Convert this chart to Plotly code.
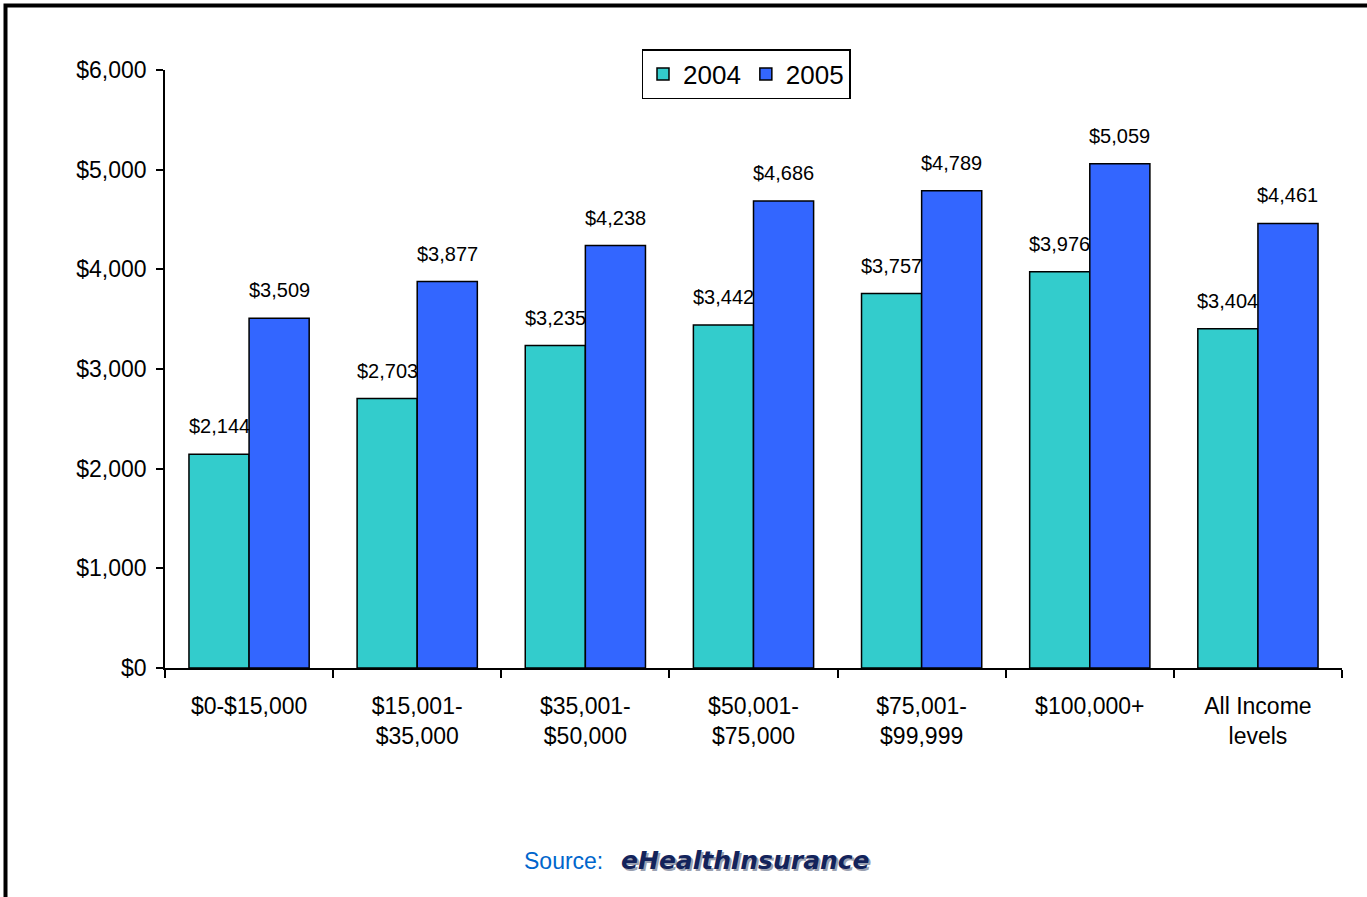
import plotly.graph_objects as go

categories = ["$0-$15,000", "$15,001-<br>$35,000", "$35,001-<br>$50,000",
              "$50,001-<br>$75,000", "$75,001-<br>$99,999", "$100,000+",
              "All Income<br>levels"]
vals_2004 = [2144, 2703, 3235, 3442, 3757, 3976, 3404]
vals_2005 = [3509, 3877, 4238, 4686, 4789, 5059, 4461]
series_names = ["2004", "2005"]
y_ticks = [0, 1000, 2000, 3000, 4000, 5000, 6000]

FONT = "Arial, Liberation Sans, sans-serif"
BARGAP = 0.285

fig = go.Figure()
fig.add_trace(go.Bar(name=series_names[0], x=categories, y=vals_2004,
                     marker=dict(color="#33CCCC", line=dict(color="black", width=1.5))))
fig.add_trace(go.Bar(name=series_names[1], x=categories, y=vals_2005,
                     marker=dict(color="#3366FF", line=dict(color="black", width=1.5))))

half = (1 - BARGAP) / 4
annotations = []
for i, (a, b) in enumerate(zip(vals_2004, vals_2005)):
    for v, off in ((a, -half), (b, half)):
        annotations.append(dict(x=i + off, y=v, xref="x", yref="y",
                                text=f"${v:,}", showarrow=False,
                                yanchor="bottom", xanchor="center", yshift=15,
                                font=dict(family=FONT, size=20, color="black")))

# Source line
src_y = (668 - 861) / 598
annotations.append(dict(x=(563 - 165) / 1177, y=src_y, xref="paper", yref="paper",
                        text="Source:", showarrow=False, xanchor="center", yanchor="middle",
                        font=dict(family=FONT, size=23, color="#0066CC")))
annotations.append(dict(x=(745 - 165) / 1177, y=src_y, xref="paper", yref="paper",
                        text="<b><i>eHealthInsurance</i></b>", showarrow=False,
                        xanchor="center", yanchor="middle", xshift=2, yshift=-2,
                        font=dict(family="DejaVu Sans", size=25, color="#9aa0b0")))
annotations.append(dict(x=(745 - 165) / 1177, y=src_y, xref="paper", yref="paper",
                        text="<b><i>eHealthInsurance</i></b>", showarrow=False,
                        xanchor="center", yanchor="middle",
                        font=dict(family="DejaVu Sans", size=25, color="#13235B")))

fig.update_layout(
    width=1367, height=897,
    margin=dict(l=165, r=25, t=70, b=229),
    paper_bgcolor="white", plot_bgcolor="white",
    barmode="group", bargap=BARGAP, bargroupgap=0,
    font=dict(family=FONT, size=23, color="black"),
    showlegend=True,
    legend=dict(orientation="h", x=(746 - 165) / 1177, y=(668 - 49) / 598,
                xanchor="center", yanchor="top",
                bordercolor="black", borderwidth=1.5,
                font=dict(family=FONT, size=26, color="black"),
                itemwidth=30, tracegroupgap=0),
    xaxis=dict(showline=True, linecolor="black", linewidth=1.5,
               ticks="outside", tickson="boundaries", ticklen=8, tickwidth=1.5,
               tickcolor="black", showgrid=False, zeroline=False,
               ticklabelstandoff=17,
               tickfont=dict(family=FONT, size=23, color="black")),
    yaxis=dict(range=[0, 6000], tickvals=y_ticks,
               ticktext=[f"${t:,}" for t in y_ticks],
               showline=True, linecolor="black", linewidth=1.5,
               ticks="outside", ticklen=7, tickwidth=1.5, tickcolor="black",
               showgrid=False, zeroline=False, ticklabelstandoff=5,
               tickfont=dict(family=FONT, size=23, color="black")),
    annotations=annotations,
    shapes=[dict(type="rect", xref="paper", yref="paper",
                 x0=(5.5 - 165) / 1177, x1=(1380 - 165) / 1177,
                 y0=(668 - 910) / 598, y1=(668 - 5.5) / 598,
                 line=dict(color="black", width=4), fillcolor="rgba(0,0,0,0)",
                 layer="below")],
)

fig.write_html("out.html", config={"displayModeBar": False},
               post_script="document.body.style.margin='0px';document.body.style.overflow='hidden';")
